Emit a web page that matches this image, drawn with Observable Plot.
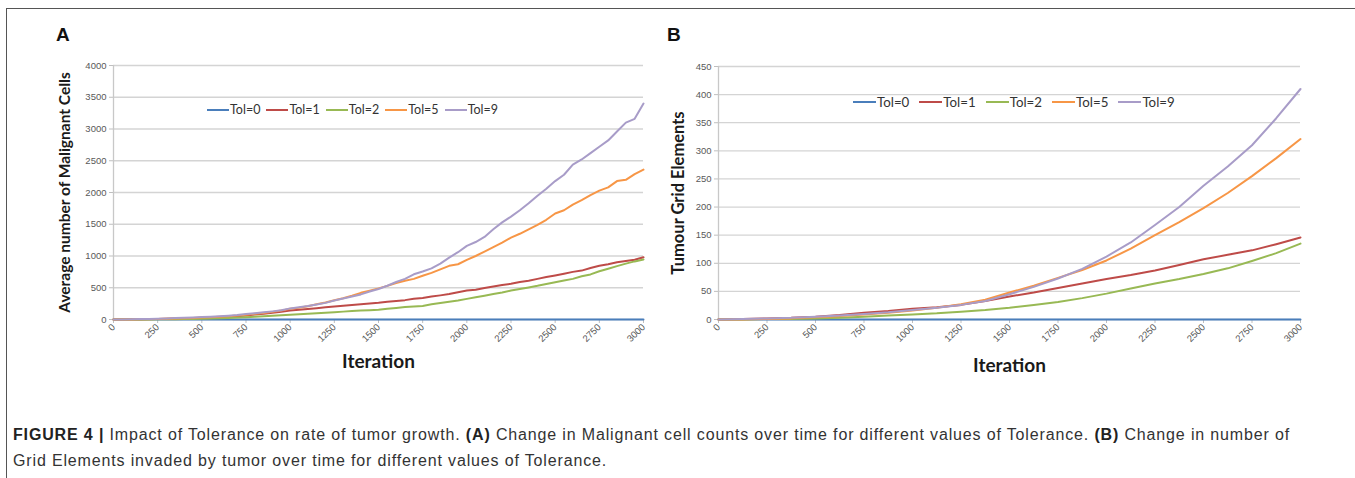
<!DOCTYPE html>
<html>
<head>
<meta charset="utf-8">
<script src="https://cdn.jsdelivr.net/npm/d3@7"></script>
<script src="https://cdn.jsdelivr.net/npm/@observablehq/plot@0.6"></script>
<style>
  html, body { margin: 0; padding: 0; background: #fff; }
  #page { position: relative; width: 1355px; height: 478px; overflow: hidden; background: #fff; }
  #frame { position: absolute; left: 6px; top: 8px; width: 1360px; height: 480px; border-left: 1px solid #555; border-top: 1px solid #555; }
  .panel { position: absolute; }
  .letter { position: absolute; font-family: "Liberation Sans", Arial, sans-serif; font-weight: bold; font-size: 19px; color: #111; }
  .legend { position: absolute; display: flex; align-items: center; font-family: Lato, "Liberation Sans", sans-serif; color: #333; white-space: nowrap; }
  .legend .item { display: flex; align-items: center; }
  .legend .sw { display: inline-block; height: 2px; margin-right: 1px; }
  .caption { position: absolute; left: 13px; font-family: "Liberation Sans", Arial, sans-serif; font-size: 16px; color: #333; white-space: nowrap; }
  .caption b { color: #222; }
</style>
</head>
<body>
<div id="page">
  <div id="frame"></div>
  <div class="letter" style="left:56px; top:24px;">A</div>
  <div class="letter" style="left:667px; top:24px;">B</div>
  <div id="chartA" class="panel" style="left:10px; top:40px;"></div>
  <div id="chartB" class="panel" style="left:665px; top:40px;"></div>
  <div id="legendA" class="legend" style="left:207px; top:102px; font-size:12.5px;"></div>
  <div id="legendB" class="legend" style="left:853px; top:94px; font-size:13.3px;"></div>
  <div id="cap1" class="caption" style="top:426px;"><b>FIGURE 4 |</b> Impact of Tolerance on rate of tumor growth. <b>(A)</b> Change in Malignant cell counts over time for different values of Tolerance. <b>(B)</b> Change in number of</div>
  <div id="cap2" class="caption" style="top:452px;">Grid Elements invaded by tumor over time for different values of Tolerance.</div>
</div>
<script>
// ---------- data ----------
const seriesNames = ["Tol=0", "Tol=1", "Tol=2", "Tol=5", "Tol=9"];
const seriesColors = ["#4a7ebb", "#be4b48", "#98b954", "#f79646", "#a89cc8"];

const xTicks = [0, 250, 500, 750, 1000, 1250, 1500, 1750, 2000, 2250, 2500, 2750, 3000];
const yTicksA = [0, 500, 1000, 1500, 2000, 2500, 3000, 3500, 4000];
const yTicksB = [0, 50, 100, 150, 200, 250, 300, 350, 400, 450];

// Panel A: average number of malignant cells, sampled every 50 iterations
const iterA = [0,50,100,150,200,250,300,350,400,450,500,550,600,650,700,750,800,850,900,950,1000,1050,1100,1150,1200,1250,1300,1350,1400,1450,1500,1550,1600,1650,1700,1750,1800,1850,1900,1950,2000,2050,2100,2150,2200,2250,2300,2350,2400,2450,2500,2550,2600,2650,2700,2750,2800,2850,2900,2950,3000];
const tol0A = [0,0,0,0,0,0,0,0,0,0,0,0,0,0,0,0,0,0,0,0,0,0,0,0,0,0,0,0,0,0,0,0,0,0,0,0,0,0,0,0,0,0,0,0,0,0,0,0,0,0,0,0,0,0,0,0,0,0,0,0,0];
const tol1A = [0,1,2,4,6,8,11,14,17,21,26,32,38,45,53,63,78,92,108,122,140,152,165,178,192,205,218,228,240,252,263,278,290,305,325,340,362,380,400,430,455,470,495,520,545,562,590,610,640,668,693,720,750,770,810,845,870,900,920,940,980];
const tol2A = [0,0,0,1,1,2,3,4,6,8,10,14,18,24,30,37,44,52,60,67,74,82,90,99,108,116,124,132,140,147,152,168,180,195,205,212,240,260,280,300,325,350,375,400,425,457,480,505,530,560,588,615,640,680,710,760,800,840,880,915,945];
const tol5A = [0,0,1,2,4,7,10,14,18,23,30,36,44,52,62,76,90,104,120,140,168,186,210,240,268,302,335,375,420,455,490,530,575,610,640,690,735,790,845,870,940,1000,1070,1140,1210,1290,1350,1420,1490,1570,1670,1720,1810,1880,1960,2030,2080,2180,2200,2290,2360];
const tol9A = [0,1,3,6,9,13,17,22,27,32,38,45,52,60,70,88,100,113,128,146,175,192,212,236,262,300,330,362,395,440,480,532,590,640,712,755,805,880,975,1060,1160,1220,1300,1420,1530,1620,1720,1830,1950,2060,2180,2280,2440,2520,2620,2720,2820,2960,3100,3160,3400];

// Panel B: tumour grid elements, sampled every 125 iterations
const iterB = [0,125,250,375,500,625,750,875,1000,1125,1250,1375,1500,1625,1750,1875,2000,2125,2250,2375,2500,2625,2750,2875,3000];
const tol0B = [0,0,0,0,0,0,0,0,0,0,0,0,0,0,0,0,0,0,0,0,0,0,0,0,0];
const tol1B = [0,1,2,3,5,8,12,15,19,22,26,33,41,48,56,64,72,79,87,97,107,115,123,134,146];
const tol2B = [0,0,1,1,2,3,5,7,9,11,14,17,21,26,31,38,46,55,64,72,81,91,104,118,135];
const tol5B = [0,0,1,2,4,6,9,12,16,21,27,35,48,60,74,88,105,126,150,173,198,225,255,287,321];
const tol9B = [0,1,2,3,5,7,10,13,17,21,26,33,45,58,73,90,112,137,168,200,238,272,310,358,410];

// ---------- build tables ----------
function table(iters, cols) {
  const rows = [];
  cols.forEach((vals, i) => vals.forEach((v, j) => rows.push({series: seriesNames[i], iter: iters[j], value: v})));
  return rows;
}
const dataA = table(iterA, [tol0A, tol1A, tol2A, tol5A, tol9A]);
const dataB = table(iterB, [tol0B, tol1B, tol2B, tol5B, tol9B]);

const tickFont = "'Liberation Sans', Arial, sans-serif";
const titleFont = "Lato, 'Liberation Sans', sans-serif";
const fmt = d => String(d);

function makeChart(opts) {
  return Plot.plot({
    width: opts.width, height: 345,
    marginLeft: opts.ml, marginRight: opts.mr, marginTop: opts.mt, marginBottom: 66,
    style: {background: "transparent", overflow: "visible", fontFamily: tickFont},
    x: {domain: [0, 3000]},
    y: {domain: opts.ydomain},
    color: {domain: seriesNames, range: seriesColors},
    marks: [
      Plot.gridY(opts.yTicks, {stroke: "#d4d4d4", strokeOpacity: 1, strokeWidth: 1.3}),
      Plot.axisY(opts.yTicks, {tickSize: 4, tickPadding: 3, fontSize: 9.5, label: null, tickFormat: fmt, stroke: "#bfbfbf", fill: "#595959"}),
      Plot.axisX(xTicks, {tickSize: 4, tickPadding: 2, tickRotate: -45, fontSize: 9.5, label: null, tickFormat: fmt, stroke: "#bfbfbf", fill: "#595959"}),
      Plot.ruleX([0], {stroke: "#c8c8c8", strokeWidth: 1.3}),
      Plot.ruleY([0], {stroke: "#bfbfbf"}),
      Plot.lineY(opts.data, {x: "iter", y: "value", z: "series", stroke: "series", strokeWidth: 2}),
      Plot.text([opts.ytitle], {frameAnchor: "left", textAnchor: "middle", dx: opts.ytdx, rotate: -90, fontSize: opts.ytsize, fontWeight: "bold", fill: "#1a1a1a", fontFamily: titleFont}),
      Plot.text(["Iteration"], {frameAnchor: "bottom", dy: opts.xtdy, fontSize: 19, fontWeight: "bold", fill: "#1a1a1a", fontFamily: titleFont})
    ]
  });
}

document.getElementById("chartA").append(makeChart({
  width: 650, ml: 103, mr: 17, mt: 25, ydomain: [0, 4000], yTicks: yTicksA, data: dataA,
  ytitle: "Average number of Malignant Cells", ytdx: -48, ytsize: 15.5, xtdy: 48
}));
document.getElementById("chartB").append(makeChart({
  width: 680, ml: 53, mr: 45, mt: 26, ydomain: [0, 450], yTicks: yTicksB, data: dataB,
  ytitle: "Tumour Grid Elements", ytdx: -40, ytsize: 16.5, xtdy: 52
}));

function legend(id, sw, gap) {
  const el = document.getElementById(id);
  seriesNames.forEach((n, i) => {
    const it = document.createElement("span");
    it.className = "item";
    it.style.marginRight = gap + "px";
    const s = document.createElement("span");
    s.className = "sw";
    s.style.width = sw + "px";
    s.style.background = seriesColors[i];
    const t = document.createElement("span");
    t.textContent = n;
    it.append(s, t);
    el.append(it);
  });
}
legend("legendA", 22, 6);
legend("legendB", 23, 10);

// fit caption line 1 to the reference's width (ends near x = 1290)
(function () {
  const c1 = document.getElementById("cap1"), c2 = document.getElementById("cap2");
  const w = c1.getBoundingClientRect().width;
  const n = c1.textContent.length;
  const ls = (1277 - w) / n;
  c1.style.letterSpacing = ls + "px";
  c2.style.letterSpacing = ls + "px";
})();
</script>
</body>
</html>
